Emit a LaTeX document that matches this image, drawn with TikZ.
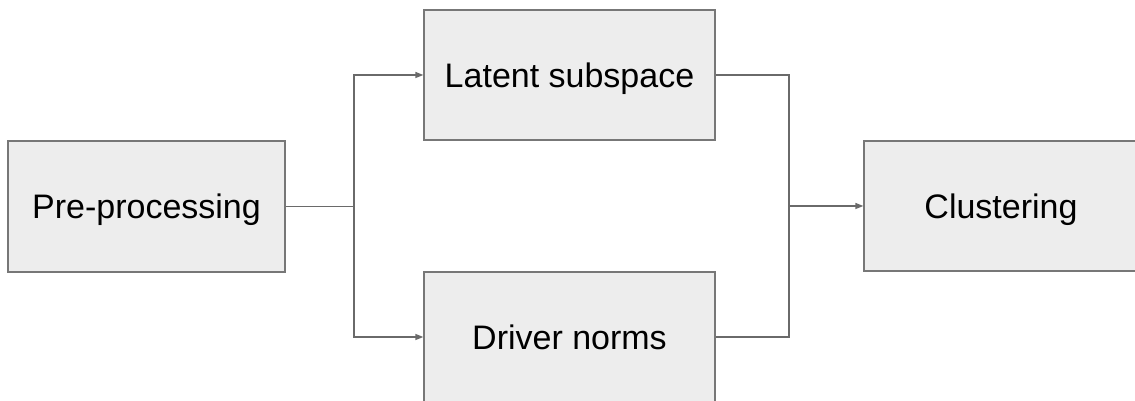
\documentclass[tikz,border=0pt]{standalone}
\usepackage{fontspec}
\setmainfont{Liberation Sans}
\usetikzlibrary{arrows.meta}
\definecolor{boxfill}{HTML}{EDEDED}
\definecolor{boxline}{HTML}{777777}
\definecolor{wire}{HTML}{6A6A6A}
\tikzset{
  stage/.style={draw=boxline, fill=boxfill, line width=1.3pt, rectangle,
    inner sep=0pt, text height=24.4pt, text depth=0pt,
    font=\fontsize{34}{40}\selectfont, text=black},
  flow/.style={draw=wire, line width=1.4pt},
  flowarrow/.style={flow, -{Triangle[length=8pt,width=6pt]}}
}
\begin{document}
\begin{tikzpicture}[x=1pt,y=1pt]
  \useasboundingbox (0,0) rectangle (1135,401);
  \fill[white] (0,0) rectangle (1135,401);
  \clip (0,0) rectangle (1135,401);

  % processing stages
  \node[stage, minimum width=277pt, minimum height=131pt] (pre)   at (146.5,194.5) {Pre-processing};
  \node[stage, minimum width=291pt, minimum height=130pt] (lat)   at (569.5,326)   {Latent subspace};
  \node[stage, minimum width=291pt, minimum height=130pt] (drv)   at (569.5,64)    {Driver norms};
  \node[stage, minimum width=274pt, minimum height=130pt] (clust) at (1001,195)    {Clustering};

  % branch and merge points
  \coordinate (split) at (354,194.5);
  \coordinate (merge) at (789,195);

  % connectors
  \draw[flow] (pre.east) -- (split);
  \draw[flowarrow] (split) |- (lat.west);
  \draw[flowarrow] (split) |- (drv.west);
  \draw[flow] (lat.east) -| (merge);
  \draw[flow] (merge) |- (drv.east);
  \draw[flowarrow] (merge) -- (clust.west);
\end{tikzpicture}
\end{document}
